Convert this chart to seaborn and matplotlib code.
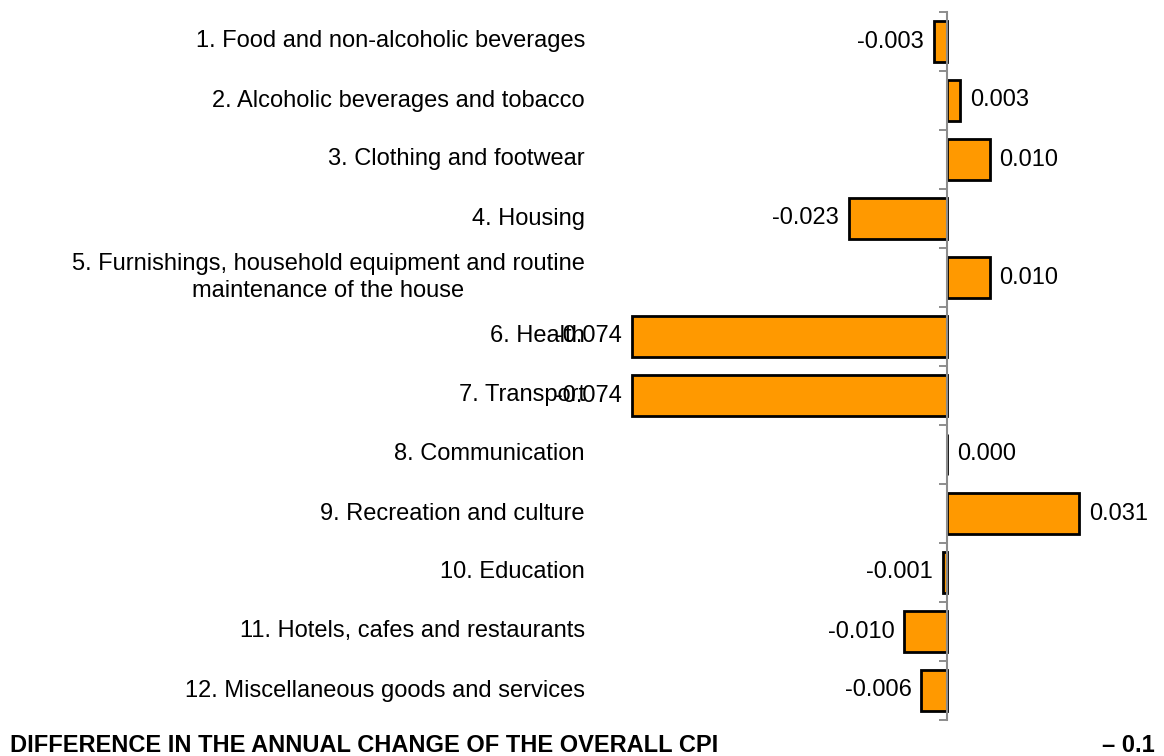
import matplotlib
matplotlib.use("Agg")
import matplotlib.pyplot as plt
import matplotlib.transforms as mtransforms
import seaborn as sns
import pandas as pd

categories = [
    "1. Food and non-alcoholic beverages",
    "2. Alcoholic beverages and tobacco",
    "3. Clothing and footwear",
    "4. Housing",
    "5. Furnishings, household equipment and routine\nmaintenance of the house",
    "6. Health",
    "7. Transport",
    "8. Communication",
    "9. Recreation and culture",
    "10. Education",
    "11. Hotels, cafes and restaurants",
    "12. Miscellaneous goods and services",
]
contributions = [-0.003, 0.003, 0.010, -0.023, 0.010, -0.074, -0.074,
                 0.000, 0.031, -0.001, -0.010, -0.006]
value_labels = ["-0.003", "0.003", "0.010", "-0.023", "0.010", "-0.074",
                "-0.074", "0.000", "0.031", "-0.001", "-0.010", "-0.006"]
total_label = "DIFFERENCE IN THE ANNUAL CHANGE OF THE OVERALL CPI"
total_value = "– 0.1"

sns.set_theme(style="white")
plt.rcParams["font.family"] = ["Liberation Sans", "DejaVu Sans"]
plt.rcParams["text.color"] = "black"

df = pd.DataFrame({"group": categories, "value": contributions})

W, H, DPI = 1164, 756, 100
fig = plt.figure(figsize=(W / DPI, H / DPI), dpi=DPI)
ax = fig.add_axes([0, 36 / H, 1, 708 / H])

sns.barplot(data=df, x="value", y="group", order=categories, orient="h",
            color="#FF9900", saturation=1, width=0.68,
            edgecolor="black", linewidth=2, ax=ax)

# x scale: zero line near the right, about 4260 px per unit
px_per_unit = 4260
zero_px = 947
ax.set_xlim(-zero_px / px_per_unit, (W - zero_px) / px_per_unit)
ax.set_ylim(len(categories) - 0.5, -0.5)

for s in ["top", "right", "bottom"]:
    ax.spines[s].set_visible(False)
ax.spines["left"].set_position(("data", 0))
ax.spines["left"].set_color("#8c8c8c")
ax.spines["left"].set_linewidth(1.5)
ax.set_xticks([])
ax.set_yticks([i - 0.5 for i in range(len(categories) + 1)])
ax.set_yticklabels([])
ax.tick_params(axis="y", which="major", direction="out", length=6,
               width=1.2, color="#7a7a7a", left=True)
ax.set_xlabel("")
ax.set_ylabel("")

fs = 17

# category names, right-aligned in a column left of the bars
label_tr = mtransforms.blended_transform_factory(fig.transFigure, ax.transData)
for i, name in enumerate(categories):
    ax.text(585 / W, i, name, transform=label_tr, ha="right", va="center",
            multialignment="center", fontsize=fs, color="black",
            linespacing=1.3)

# value labels at the bar ends
off = 10 / px_per_unit
for i, (v, lab) in enumerate(zip(contributions, value_labels)):
    if lab.startswith("-"):
        ax.text(v - off, i, lab, ha="right", va="center", fontsize=fs,
                color="black")
    else:
        ax.text(v + off, i, lab, ha="left", va="center", fontsize=fs,
                color="black")

fig.text(10 / W, 1 - 746 / H, total_label, ha="left", va="center",
         fontsize=17, fontweight="bold", color="black")
fig.text(1155 / W, 1 - 746 / H, total_value, ha="right", va="center",
         fontsize=17, fontweight="bold", color="black")

fig.savefig("out.png", dpi=DPI, facecolor="white")
